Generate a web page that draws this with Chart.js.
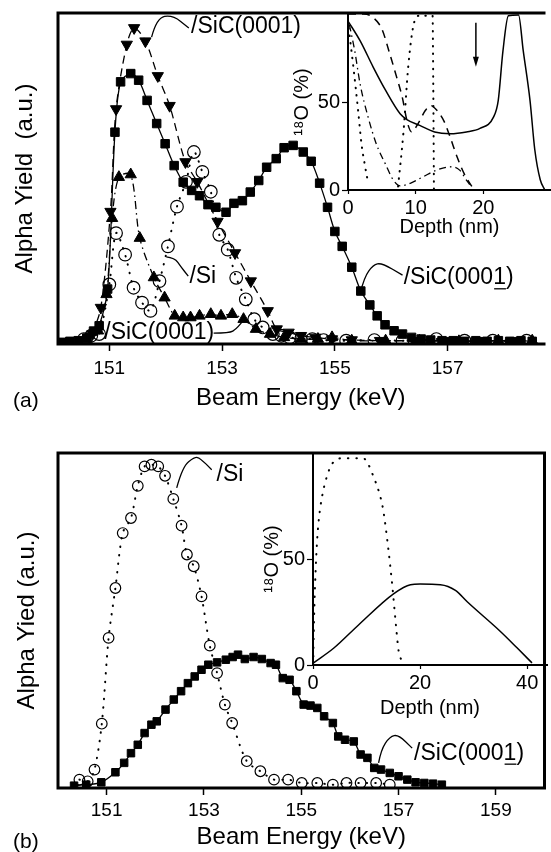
<!DOCTYPE html>
<html>
<head>
<meta charset="utf-8">
<title>Alpha yield vs beam energy</title>
<script src="https://cdn.jsdelivr.net/npm/chart.js@4.4.0/dist/chart.umd.min.js"></script>
<style>
    body { margin: 0; background: #fff; width: 551px; height: 852px; position: relative; overflow: hidden;
           font-family: "Liberation Sans", Arial, sans-serif; }
    canvas { position: absolute; }
    #mainA { left: 0; top: 0; }
    #insetA { left: 290px; top: 0; }
    #mainB { left: 0; top: 426px; }
    #insetB { left: 240px; top: 426px; }
    .tag { position: absolute; font-size: 21px; line-height: 24px; color: #000; }
</style>
</head>
<body>
<canvas id="mainA" width="551" height="426"></canvas>
<canvas id="insetA" width="261" height="245"></canvas>
<canvas id="mainB" width="551" height="426"></canvas>
<canvas id="insetB" width="308" height="300"></canvas>
<div class="tag" style="left:13px;top:388px">(a)</div>
<div class="tag" style="left:13px;top:829px">(b)</div>

<script>
// ---- (a) spectra: beam energy (keV) / alpha yield (a.u.)
var aSqE = [150.15, 150.3, 150.45, 150.6, 150.72, 150.82, 150.97, 151.1, 151.2, 151.38, 151.52, 151.67,
            151.84, 151.99, 152.15, 152.31, 152.46, 152.6, 152.75, 152.89, 153.07, 153.21, 153.36, 153.5,
            153.65, 153.79, 153.96, 154.1, 154.26, 154.44, 154.58, 154.73, 154.87, 155.0, 155.13, 155.3,
            155.46, 155.62, 155.75, 155.89, 156.05, 156.2, 156.36, 156.53, 156.7, 156.9, 157.1, 157.3,
            157.5, 157.7, 157.9, 158.1, 158.3, 158.5];
var aSqY = [0.5, 0.8, 1.0, 1.8, 3.9, 5.5, 16.6, 64.0, 79.2, 81.7, 79.7, 73.6,
            66.6, 60.5, 53.9, 48.9, 46.4, 44.8, 42.1, 41.3, 39.8, 42.5, 43.3, 45.9,
            49.4, 53.4, 56.0, 59.3, 60.0, 58.0, 55.2, 48.6, 41.3, 34.0, 29.5, 23.2,
            16.0, 11.8, 8.5, 5.8, 4.0, 3.0, 2.0, 1.5, 1.2, 1.0, 1.0, 0.8,
            1.0, 0.8, 1.0, 0.8, 1.0, 0.8];
var aDnE = [150.7, 150.85, 151.02, 151.12, 151.31, 151.44, 151.64, 151.86, 152.07, 152.35, 152.56, 152.92,
            153.23, 153.51, 153.81, 153.97, 154.18, 154.4, 154.65, 154.95, 155.3, 155.8, 156.4, 157.0,
            157.6, 158.2];
var aDnY = [3, 11, 40, 71, 90.5, 95.5, 91.5, 81, 72, 55, 49, 37,
            27.5, 19, 10, 4.5, 3.5, 2.5, 2, 1.5, 1.2, 1, 1, 1,
            1, 1];
var aUpE = [150.6, 150.8, 150.95, 151.05, 151.17, 151.38, 151.54, 151.79, 151.98, 152.16, 152.31, 152.44,
            152.6, 152.8, 152.98, 153.18, 153.38, 153.6, 153.85, 154.1, 154.4, 154.7, 154.95, 155.3,
            155.9, 156.5, 157.2, 157.9, 158.5];
var aUpY = [1.5, 4, 15, 38, 50.4, 51.2, 32, 20.1, 14, 8.5, 8, 8,
            8.5, 9, 8.5, 9, 7.5, 4.5, 3, 2, 1.5, 1.5, 2, 1,
            1, 1, 0.8, 1, 1];
var aCiE = [150.55, 150.68, 150.82, 151.0, 151.12, 151.28, 151.43, 151.58, 151.73, 151.89, 152.04, 152.2,
            152.36, 152.5, 152.65, 152.8, 152.95, 153.1, 153.25, 153.42, 153.57, 153.72, 153.9, 154.05,
            154.2, 154.4, 154.6, 154.8, 155.2, 155.7, 156.2, 156.8, 157.3, 157.8, 158.4];
var aCiY = [1.5, 2.5, 3, 18, 33.5, 27, 17, 12.5, 10, 19, 29.5, 41.5,
            49, 58, 52, 46, 33, 28.5, 20, 13.5, 7.5, 5, 3, 2.5,
            2, 1.5, 1.5, 1.2, 1, 1.2, 1, 1.5, 1, 1, 1];

// ---- (a) inset: depth (nm) / 18O (%)
var iaSolidD = [0, 1.8, 3.7, 5.5, 7.7, 8.7, 10.6, 12.8, 15.1, 17.5, 19.5, 21.5, 22.2, 22.9, 23.7, 25.2, 25.9, 26.9, 27.6, 28.4, 29.1];
var iaSolidP = [96, 84.7, 70, 57, 43.3, 40, 36.7, 33, 32, 33, 35, 41.4, 50.8, 79, 99, 99.5, 79, 50.8, 23, 6, 0];
var iaDashD = [0, 2.3, 3.7, 5.0, 6.2, 7.2, 8.0, 8.8, 9.4, 10.4, 11.4, 12.2, 13.2, 14.2, 15.1, 16.1, 17.2, 18.3];
var iaDashP = [100, 100, 98, 91.5, 77, 64, 53, 38, 33, 38, 45, 48, 45, 39, 30, 19, 9, 2];
var iaDashDotD = [0.2, 1.0, 1.8, 3.0, 4.2, 5.5, 6.7, 7.7, 9.2, 11.1, 13.1, 15.3, 16.5, 17.5, 18.0];
var iaDashDotP = [94, 79, 60, 41, 26, 15, 5.6, 2.3, 3.8, 7.5, 11.3, 13.2, 11.3, 5.6, 3];
var iaDot1D = [0.1, 0.8, 1.5, 2.0, 2.5, 3.0];
var iaDot1P = [92, 69.7, 45, 26, 14, 3.5];
var iaDot2D = [7.4, 8.2, 8.9, 9.7, 10.6, 12.5, 12.6, 12.7];
var iaDot2P = [2, 33, 70, 94, 99, 99, 60, 0];

// ---- (b) spectra
var bCiE = [150.44, 150.61, 150.75, 150.9, 151.04, 151.18, 151.33, 151.5, 151.64, 151.78, 151.92, 152.06,
            152.2, 152.37, 152.54, 152.65, 152.79, 152.95, 153.12, 153.27, 153.43, 153.58, 153.88, 154.16,
            154.44, 154.73, 155.01, 155.33, 155.65, 155.93, 156.22, 156.54, 156.82];
var bCiY = [2.5, 2, 5.5, 19.2, 44.8, 59.7, 76.1, 80.6, 90.2, 96, 96.5, 96,
            93.2, 86.3, 78.3, 69.7, 66.2, 57.2, 42.5, 34.3, 24.9, 19.4, 8.0, 5.0,
            2.5, 2.5, 1.5, 1.5, 1, 1.5, 1.5, 1.5, 1];
var bSqE = [150.33, 150.58, 150.89, 151.18, 151.36, 151.5, 151.64, 151.78, 151.92, 152.03, 152.21, 152.38,
            152.53, 152.67, 152.81, 152.95, 153.09, 153.27, 153.45, 153.59, 153.7, 153.84, 154.02, 154.19,
            154.37, 154.48, 154.62, 154.76, 154.9, 155.05, 155.19, 155.33, 155.47, 155.65, 155.76, 155.9,
            156.08, 156.22, 156.36, 156.5, 156.64, 156.82, 157.0, 157.18, 157.35, 157.53, 157.71, 157.89];
var bSqY = [0.7, 1, 1.7, 4.7, 7.5, 10.4, 12.9, 16.4, 18.9, 19.9, 23.4, 26.4,
            28.9, 31.3, 33.3, 35.3, 36.8, 37.5, 38.3, 39.1, 39.8, 38.5, 39.1, 38.5,
            37.3, 36.8, 32.8, 32.3, 28.9, 24.9, 24.6, 23.9, 21.4, 19.4, 15.4, 14.4,
            13.9, 10, 9, 6, 5.5, 4.5, 3.5, 2.5, 1.7, 1.5, 1.3, 1];

// ---- (b) inset
var ibSolidD = [0.1, 3.9, 8.5, 15.1, 18.2, 20, 23.8, 26.6, 28.8, 35.0, 38.1, 40.9];
var ibSolidP = [1, 8, 18.9, 33.7, 37.9, 38.2, 37.9, 35.2, 29.8, 15.8, 8.1, 1];
var ibDotD = [0.05, 0.1, 0.25, 0.45, 0.75, 1.1, 1.7, 2.6, 3.6, 5.2, 9.4, 10.4, 11.3, 12.3, 13.1, 14.0, 14.8, 15.6, 16.0, 16.9];
var ibDotP = [0, 10, 27, 42, 58, 69, 79.5, 89, 95, 97.5, 97.5, 94.3, 88.8, 81.8, 73.3, 56.2, 37.6, 15.8, 6.5, 1];

// tick labels
var aTicks = [151, 153, 155, 157];
var bTicks = [151, 153, 155, 157, 159];
var iaTicks = [0, 10, 20];
var ibTicks = [0, 20, 40];
var insetYTicks = [0, 50];


var FONT = '"Liberation Sans", Arial, sans-serif';
Chart.defaults.font.family = FONT;
Chart.defaults.color = '#000';

function pts(xs, ys) {
    return xs.map(function (x, i) { return { x: x, y: ys[i] }; });
}

function series(xs, ys, opt) {
    var d = {
        data: pts(xs, ys), borderColor: '#000', borderWidth: 1.3, fill: false,
        pointRadius: 0, pointBorderColor: '#000', pointBackgroundColor: '#000', pointBorderWidth: 1,
        tension: 0.3
    };
    for (var k in opt) d[k] = opt[k];
    return d;
}

function fixedTicks(list) {
    return function (ax) { ax.ticks = list.map(function (v) { return { value: v }; }); };
}

// Frame round the plot area (panel a is cut off on the right, so no right side there)
function boxFrame(withRight) {
    return {
        id: 'boxFrame',
        afterDatasetsDraw: function (chart) {
            var a = chart.chartArea, c = chart.ctx;
            c.save();
            c.strokeStyle = '#000';
            c.lineWidth = 3;
            c.lineJoin = 'miter';
            c.beginPath();
            if (withRight) {
                c.rect(a.left, a.top, a.right - a.left, a.bottom - a.top);
            } else {
                c.moveTo(a.right + 2, a.top);
                c.lineTo(a.left, a.top);
                c.lineTo(a.left, a.bottom);
                c.lineTo(a.right + 2, a.bottom);
            }
            c.stroke();
            c.restore();
        }
    };
}

// Labels with their curly leader lines, placed in data units
function notesPlugin(notes, arrows) {
    return {
        id: 'notes',
        afterDraw: function (chart) {
            var c = chart.ctx, sx = chart.scales.x, sy = chart.scales.y;
            c.save();
            c.strokeStyle = '#000';
            c.fillStyle = '#000';
            c.lineWidth = 1.3;
            c.font = '23px ' + FONT;
            c.textBaseline = 'middle';
            notes.forEach(function (n) {
                var p = n.leader.map(function (q) { return [sx.getPixelForValue(q[0]), sy.getPixelForValue(q[1])]; });
                c.beginPath();
                c.moveTo(p[0][0], p[0][1]);
                for (var i = 1; i < p.length - 1; i++) {
                    c.quadraticCurveTo(p[i][0], p[i][1], (p[i][0] + p[i + 1][0]) / 2, (p[i][1] + p[i + 1][1]) / 2);
                }
                c.lineTo(p[p.length - 1][0], p[p.length - 1][1]);
                c.stroke();
                var tx = sx.getPixelForValue(n.x), ty = sy.getPixelForValue(n.y);
                c.fillText(n.text, tx, ty);
                if (n.bar) {
                    var cut = n.text.lastIndexOf('1');
                    var w0 = c.measureText(n.text.slice(0, cut)).width;
                    var w1 = c.measureText('1').width;
                    c.beginPath();
                    c.moveTo(tx + w0 + 1, ty + 11);
                    c.lineTo(tx + w0 + w1, ty + 11);
                    c.stroke();
                }
            });
            (arrows || []).forEach(function (ar) {
                var x = sx.getPixelForValue(ar.x), y0 = sy.getPixelForValue(ar.from), y1 = sy.getPixelForValue(ar.to);
                c.lineWidth = 1.5;
                c.beginPath();
                c.moveTo(x, y0);
                c.lineTo(x, y1 - 8);
                c.stroke();
                c.beginPath();
                c.moveTo(x - 3, y1 - 10);
                c.lineTo(x + 3, y1 - 10);
                c.lineTo(x, y1);
                c.closePath();
                c.fill();
            });
            c.restore();
        }
    };
}

function mainOptions(o) {
    return {
        responsive: false,
        animation: false,
        layout: { padding: { top: o.top, right: o.right, left: 0, bottom: 0 } },
        plugins: { legend: { display: false }, tooltip: { enabled: false } },
        scales: {
            x: {
                type: 'linear', min: o.xmin, max: o.xmax,
                afterBuildTicks: fixedTicks(o.ticks),
                afterFit: function (ax) { ax.height = o.xh; },
                ticks: { font: { size: 19 }, padding: o.tickPad, maxRotation: 0, autoSkip: false,
                         callback: function (v) { return String(v); } },
                grid: { drawOnChartArea: false, tickLength: 7, tickWidth: 1.5, tickColor: '#000' },
                border: { display: false },
                title: { display: true, text: 'Beam Energy (keV)', font: { size: 24 },
                         padding: { top: 0, bottom: o.titlePad } }
            },
            y: {
                min: 0, max: 100,
                afterFit: function (ax) { ax.width = 58; },
                ticks: { display: false },
                grid: { display: false },
                border: { display: false },
                title: { display: true, text: o.ytitle, font: { size: 24 },
                         padding: { top: o.ytitlePad, bottom: 0 } }
            }
        }
    };
}

function insetOptions(o) {
    return {
        responsive: false,
        animation: false,
        layout: { padding: { top: o.top, right: o.right, left: 0, bottom: 0 } },
        plugins: { legend: { display: false }, tooltip: { enabled: false } },
        scales: {
            x: {
                type: 'linear', min: 0, max: o.xmax,
                afterBuildTicks: fixedTicks(o.ticks),
                afterFit: function (ax) { ax.height = o.xh; },
                ticks: { font: { size: 20 }, padding: 2, maxRotation: 0, autoSkip: false },
                grid: { drawOnChartArea: false, tickLength: 4, tickWidth: 1.2, tickColor: '#000' },
                border: { display: true, color: '#000', width: 2 },
                title: { display: true, text: 'Depth (nm)', font: { size: 20 }, padding: { top: 0, bottom: 6 } }
            },
            y: {
                min: 0, max: 100,
                afterBuildTicks: fixedTicks(insetYTicks),
                afterFit: function (ax) { ax.width = o.yw; },
                ticks: { font: { size: 20 }, padding: 2 },
                grid: { drawOnChartArea: false, tickLength: 6, tickWidth: 1.2, tickColor: '#000' },
                border: { display: true, color: '#000', width: 2 },
                title: { display: true, text: '\u00b9\u2078O (%)', font: { size: 20 },
                         padding: { top: o.ytitlePad, bottom: 0 } }
            }
        }
    };
}

var DOT = [0.5, 8];

// Panel (a)
new Chart(document.getElementById('mainA'), {
    type: 'line',
    data: {
        datasets: [
            series(aSqE, aSqY, { pointStyle: 'rect', pointRadius: 6 }),
            series(aDnE, aDnY, { pointStyle: 'triangle', rotation: 180, pointRadius: 6.5, borderDash: [8, 5] }),
            series(aUpE, aUpY, { pointStyle: 'triangle', pointRadius: 6.5, borderDash: [8, 4, 1.5, 4] }),
            series(aCiE, aCiY, { pointStyle: 'circle', pointRadius: 6.3, pointBackgroundColor: 'rgba(0,0,0,0)',
                                 pointBorderWidth: 1.2, borderDash: DOT, borderWidth: 2, borderCapStyle: 'round' })
        ]
    },
    options: mainOptions({ top: 13, right: 0, xmin: 150.09, xmax: 158.7, ticks: aTicks, xh: 82,
                           tickPad: 6, titlePad: 13, ytitle: 'Alpha Yield  (a.u.)', ytitlePad: 11 }),
    plugins: [boxFrame(false), notesPlugin([
        { text: '/SiC(0001)', x: 152.45, y: 95.8, leader: [[151.75, 92.7], [151.84, 98.5], [152.12, 99.4], [152.41, 95.5]] },
        { text: '/Si', x: 152.42, y: 20.2, leader: [[152.01, 26.3], [152.16, 26], [152.27, 23.3], [152.4, 20.5]] },
        { text: '/SiC(0001)', x: 150.91, y: 3.3, leader: [[152.85, 3.3], [153.13, 3.3], [153.25, 4.5], [153.41, 7.8]] },
        { text: '/SiC(0001)', x: 156.22, y: 20, bar: true,
          leader: [[155.45, 15.4], [155.52, 20.2], [155.68, 23.9], [155.83, 24.5], [156.2, 20.8]] }
    ])]
});

new Chart(document.getElementById('insetA'), {
    type: 'line',
    data: {
        datasets: [
            series(iaSolidD, iaSolidP, { cubicInterpolationMode: 'monotone', borderWidth: 1.5 }),
            series(iaDashD, iaDashP, { cubicInterpolationMode: 'monotone', borderWidth: 1.5, borderDash: [8, 6] }),
            series(iaDashDotD, iaDashDotP, { cubicInterpolationMode: 'monotone', borderWidth: 1.3, borderDash: [7, 4, 1.5, 4] }),
            series(iaDot1D, iaDot1P, { cubicInterpolationMode: 'monotone', borderWidth: 2, borderDash: [0.5, 7], borderCapStyle: 'round' }),
            series(iaDot2D, iaDot2P, { cubicInterpolationMode: 'monotone', borderWidth: 2, borderDash: [0.5, 7], borderCapStyle: 'round' })
        ]
    },
    options: insetOptions({ top: 13, right: 0, xmax: 30, ticks: iaTicks, xh: 55, yw: 58, ytitlePad: 0 }),
    plugins: [notesPlugin([], [{ x: 18.9, from: 95, to: 70 }])]
});

// Panel (b)
new Chart(document.getElementById('mainB'), {
    type: 'line',
    data: {
        datasets: [
            series(bSqE, bSqY, { pointStyle: 'rect', pointRadius: 5.3 }),
            series(bCiE, bCiY, { pointStyle: 'circle', pointRadius: 5.3, pointBackgroundColor: 'rgba(0,0,0,0)',
                                 pointBorderWidth: 1.2, borderDash: DOT, borderWidth: 2, borderCapStyle: 'round' })
        ]
    },
    options: mainOptions({ top: 27, right: 4, xmin: 150, xmax: 160, ticks: bTicks, xh: 64,
                           tickPad: 4, titlePad: 0, ytitle: 'Alpha Yied (a.u.)', ytitlePad: 13 }),
    plugins: [boxFrame(true), notesPlugin([
        { text: '/Si', x: 153.26, y: 93.5, leader: [[152.44, 89.6], [152.56, 96], [152.81, 98.8], [152.92, 98.5], [153.16, 95]] },
        { text: '/SiC(0001)', x: 157.32, y: 10.4, bar: true,
          leader: [[156.59, 7.5], [156.64, 11.4], [156.82, 15.4], [157.0, 15.9], [157.28, 11.9]] }
    ])]
});

new Chart(document.getElementById('insetB'), {
    type: 'line',
    data: {
        datasets: [
            series(ibSolidD, ibSolidP, { cubicInterpolationMode: 'monotone', borderWidth: 1.5 }),
            series(ibDotD, ibDotP, { cubicInterpolationMode: 'monotone', borderWidth: 2, borderDash: [0.5, 8], borderCapStyle: 'round' })
        ]
    },
    options: insetOptions({ top: 27, right: 1, xmax: 43.7, ticks: ibTicks, xh: 61, yw: 73, ytitlePad: 20 })
});
</script>
</body>
</html>
